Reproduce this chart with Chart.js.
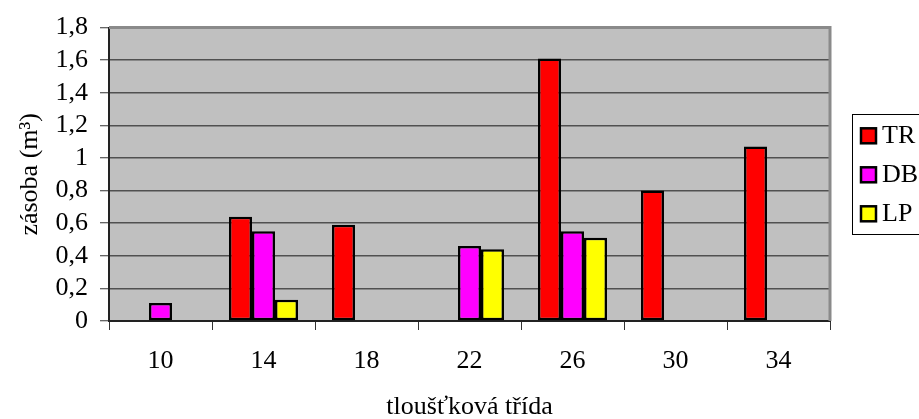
<!DOCTYPE html>
<html>
<head>
<meta charset="utf-8">
<script src="https://cdn.jsdelivr.net/npm/chart.js@4"></script>
<style>
  html, body { margin: 0; padding: 0; background: #ffffff; }
  #wrap { width: 919px; height: 419px; }
</style>
</head>
<body>
<div id="wrap"><canvas id="c" width="919" height="419"></canvas></div>
<script>
// Tloušťkové třídy a zásoba dřevin (m3)
const categories = ['10', '14', '18', '22', '26', '30', '34'];
const seriesNames = ['TR', 'DB', 'LP'];
const trValues = [null, 0.64, 0.59, null, 1.61, 0.80, 1.07];
const dbValues = [0.11, 0.55, null, 0.46, 0.55, null, null];
const lpValues = [null, 0.13, null, 0.44, 0.51, null, null];
const yTickLabels = ['0', '0,2', '0,4', '0,6', '0,8', '1', '1,2', '1,4', '1,6', '1,8'];

const FONT = 'Liberation Serif, "Times New Roman", serif';
const FONT_SIZE = 26;
const colors = ['#ff0000', '#ff00ff', '#ffff00'];

// plot area background and frame
const plotFrame = {
  id: 'plotFrame',
  beforeDraw(chart) {
    const a = chart.chartArea, ctx = chart.ctx;
    ctx.save();
    ctx.fillStyle = '#c0c0c0';
    ctx.fillRect(a.left, a.top, a.right - a.left, a.bottom - a.top);
    ctx.restore();
  },
  afterDatasetsDraw(chart) {
    const a = chart.chartArea, ctx = chart.ctx;
    ctx.save();
    ctx.strokeStyle = '#8a8a8a';
    ctx.lineWidth = 3;
    ctx.beginPath();
    ctx.moveTo(a.left, a.top);
    ctx.lineTo(a.right, a.top);
    ctx.lineTo(a.right, a.bottom);
    ctx.stroke();
    ctx.restore();
  }
};

// boxed legend at the right side
const boxLegend = {
  id: 'boxLegend',
  afterDraw(chart) {
    const ctx = chart.ctx;
    const a = chart.chartArea;
    const mid = (a.top + a.bottom) / 2;
    const boxX = 852.5, boxW = 90, boxH = 120;
    const boxY = Math.round(mid - boxH / 2) + 0.5;
    ctx.save();
    ctx.fillStyle = '#ffffff';
    ctx.fillRect(boxX, boxY, boxW, boxH);
    ctx.strokeStyle = '#000000';
    ctx.lineWidth = 1;
    ctx.strokeRect(boxX, boxY, boxW, boxH);
    ctx.font = FONT_SIZE + 'px ' + FONT;
    ctx.textBaseline = 'middle';
    chart.data.datasets.forEach((ds, i) => {
      const cy = mid - 39 + i * 39;
      ctx.fillStyle = ds.backgroundColor;
      ctx.fillRect(861, cy - 7, 15, 15);
      ctx.strokeStyle = '#000000';
      ctx.lineWidth = 2.5;
      ctx.strokeRect(861, cy - 7, 15, 15);
      ctx.fillStyle = '#000000';
      ctx.fillText(ds.label, 882, cy + 1);
    });
    ctx.restore();
  }
};

const seriesValues = [trValues, dbValues, lpValues];

new Chart(document.getElementById('c'), {
  type: 'bar',
  data: {
    labels: categories,
    datasets: seriesNames.map((name, i) => ({
      label: name,
      data: seriesValues[i],
      backgroundColor: colors[i],
      borderColor: '#000000',
      borderWidth: 2.5,
      borderSkipped: false,
      barPercentage: 1.0,
      categoryPercentage: 0.67
    }))
  },
  options: {
    responsive: false,
    animation: false,
    devicePixelRatio: 1,
    layout: { padding: { top: 23, right: 89, left: 0, bottom: 0 } },
    plugins: {
      legend: { display: false },
      tooltip: { enabled: false }
    },
    scales: {
      x: {
        grid: {
          offset: true,
          drawOnChartArea: false,
          drawTicks: true,
          tickLength: 9,
          color: '#333333',
          lineWidth: 1
        },
        border: { color: '#222222', width: 2 },
        ticks: {
          color: '#000000',
          font: { family: FONT, size: FONT_SIZE },
          padding: 16,
          maxRotation: 0,
          autoSkip: false
        },
        title: {
          display: true,
          text: 'tloušťková třída',
          color: '#000000',
          font: { family: FONT, size: FONT_SIZE, lineHeight: '24px' },
          padding: { top: 0, bottom: 0 }
        },
        afterFit(scale) { scale.height = 98; }
      },
      y: {
        min: 0,
        max: 1.8,
        grid: {
          color: '#505050',
          lineWidth: 1.5,
          tickLength: 9,
          tickColor: '#333333',
          tickWidth: 1
        },
        border: { color: '#222222', width: 2 },
        ticks: {
          stepSize: 0.2,
          autoSkip: false,
          color: '#000000',
          font: { family: FONT, size: FONT_SIZE },
          padding: 12,
          callback: (v, i) => yTickLabels[i]
        },
        title: {
          display: true,
          text: 'zásoba (m³)',
          color: '#000000',
          font: { family: FONT, size: FONT_SIZE, lineHeight: '30px' },
          padding: { top: 15, bottom: 0 }
        },
        afterFit(scale) { scale.width = 109; }
      }
    }
  },
  plugins: [plotFrame, boxLegend]
});
</script>
</body>
</html>
